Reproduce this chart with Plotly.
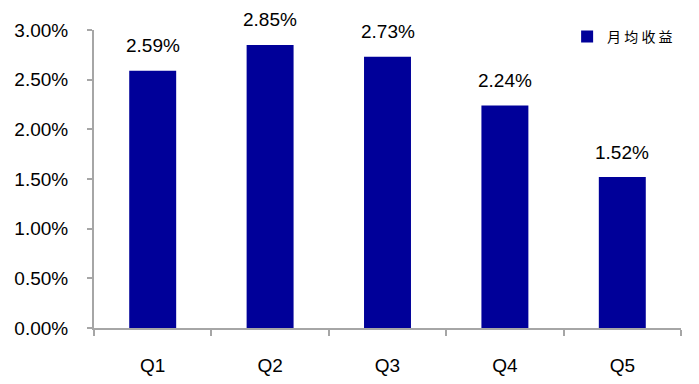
import plotly.graph_objects as go

categories = ["Q1", "Q2", "Q3", "Q4", "Q5"]
values = [2.59, 2.85, 2.73, 2.24, 1.52]
labels = ["2.59%", "2.85%", "2.73%", "2.24%", "1.52%"]
series_name = "月 均 收 益"
y_ticks = [0, 0.5, 1.0, 1.5, 2.0, 2.5, 3.0]
y_tick_labels = ["0.00%", "0.50%", "1.00%", "1.50%", "2.00%", "2.50%", "3.00%"]

font_family = "Liberation Sans, Arial, sans-serif"
axis_color = "#a6a6a6"

fig = go.Figure()
fig.add_trace(go.Bar(
    x=categories, y=values, name=series_name,
    marker=dict(color="#000099", line=dict(width=0)),
    showlegend=True,
))

for c, v, t in zip(categories, values, labels):
    fig.add_annotation(x=c, y=v, text=t, showarrow=False, yshift=25,
                       font=dict(family=font_family, size=19, color="#000000"))

fig.update_layout(
    width=699, height=384,
    margin=dict(l=86, r=26, t=22, b=64, autoexpand=False),
    plot_bgcolor="white", paper_bgcolor="white",
    bargap=0.6,
    font=dict(family=font_family, size=19, color="#000000"),
    legend=dict(x=0.806, y=0.977, xanchor="left", yanchor="middle",
                font=dict(family="Noto Sans CJK SC", size=14, color="#000000"),
                bgcolor="rgba(0,0,0,0)", itemwidth=30),
    xaxis=dict(
        automargin=False,
        showline=True, linecolor=axis_color, linewidth=2,
        ticks="outside", tickson="boundaries", ticklen=6, tickwidth=2, tickcolor=axis_color,
        showgrid=False, tickfont=dict(family=font_family, size=19),
        ticklabelstandoff=19,
    ),
    yaxis=dict(
        automargin=False,
        range=[0, 3], tickvals=y_ticks, ticktext=y_tick_labels,
        showline=True, linecolor=axis_color, linewidth=2,
        ticks="outside", ticklen=5, tickwidth=2, tickcolor=axis_color,
        showgrid=False, zeroline=False, tickfont=dict(family=font_family, size=19),
        ticklabelstandoff=15,
    ),
)

fig.write_html("out.html")
